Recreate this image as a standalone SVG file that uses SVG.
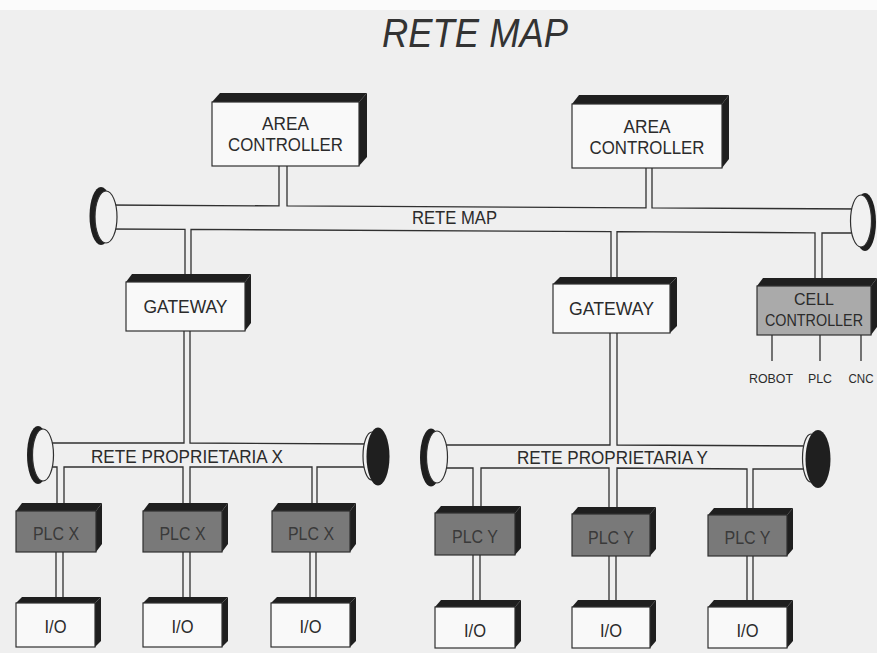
<svg xmlns="http://www.w3.org/2000/svg" width="877" height="653" viewBox="0 0 877 653">
<style>
  .ln{fill:none;stroke:#303030;stroke-width:1.3}
  .dk{fill:#1f1f1f}
  .fw{fill:#f9f9f9;stroke:#303030;stroke-width:1.2}
  .fd{fill:#797979;stroke:#303030;stroke-width:1.2}
  .fc{fill:#aaaaaa;stroke:#303030;stroke-width:1.2}
  .capl{fill:#f1f1f1;stroke:#303030;stroke-width:1.2}
  text{font-family:"Liberation Sans",Arial,Helvetica,sans-serif;fill:#2b2b2b;text-anchor:middle}
  .t17{font-size:18.5px}
  .tc{font-size:17px}
  .tp{font-size:19px;fill:#3a3a3a}
  .ts{font-size:13.5px}
</style>
<rect x="0" y="0" width="877" height="653" fill="#efefef"/>
<rect x="0" y="0" width="877" height="10" fill="#fbfbfb"/>
<text x="382" y="47" style="font-size:40px;font-style:italic;text-anchor:start;fill:#333" textLength="186" lengthAdjust="spacingAndGlyphs">RETE MAP</text>

<g id="connectors" class="ln">
  <path d="M106,205 L279,205.9 L279,166 M287,166 L287,205.9 L646,207.9 L646,168 M652,168 L652,207.9 L861,209"/>
  <path d="M106,229 L185,229.4 L185,282 M191,282 L191,229.4 L611,231.7 L611,284 M617,284 L617,231.7 L815,232.8 L815,286 M822,286 L822,232.8 L861,233"/>
  <path d="M184,331 L184,443 L43,443 M190,331 L190,443 L372,444"/>
  <path d="M43,467 L57,467 L57,511 M64,511 L64,467 L183,467 L183,511 M190,511 L190,467 L312,467 L312,511 M317,511 L317,467 L372,467"/>
  <path d="M56,552 V603 M63,552 V603 M183,552 V603 M190,552 V603 M310,552 V603 M316,552 V603"/>
  <path d="M610,333 L610,445 L437,445 M617,333 L617,445 L812,446"/>
  <path d="M437,468 L473,468 L473,513 M481,513 L481,468 L609,468 L609,514 M617,514 L617,468 L747,469 L747,515 M753,515 L753,469 L812,469"/>
  <path d="M473,555 V607 M480,555 V607 M609,556 V607 M616,556 V607 M747,556 V607 M753,556 V607"/>
  <path d="M772,335 V361 M820,335 V361 M861,335 V361"/>
</g>

<g id="bus-map">
  <ellipse class="dk" cx="101" cy="216" rx="11.5" ry="29"/>
  <ellipse class="capl" cx="106" cy="217" rx="11" ry="26"/>
  <ellipse class="dk" cx="865" cy="222" rx="11" ry="29"/>
  <ellipse class="capl" cx="861" cy="221" rx="10.5" ry="26"/>
  <text class="t17" x="454.5" y="224" textLength="85" lengthAdjust="spacingAndGlyphs">RETE MAP</text>
</g>
<g id="bus-x">
  <ellipse class="dk" cx="38" cy="455" rx="11" ry="29"/>
  <ellipse class="capl" cx="43" cy="455" rx="10.5" ry="26"/>
  <ellipse class="capl" cx="372" cy="456" rx="9" ry="24"/>
  <ellipse class="dk" cx="378" cy="456.5" rx="11.5" ry="29"/>
  <text class="t17" x="187" y="463" textLength="192" lengthAdjust="spacingAndGlyphs">RETE PROPRIETARIA X</text>
</g>
<g id="bus-y">
  <ellipse class="dk" cx="431" cy="457.5" rx="11" ry="29"/>
  <ellipse class="capl" cx="437" cy="457" rx="10.5" ry="26"/>
  <ellipse class="capl" cx="811" cy="458" rx="8.5" ry="24"/>
  <ellipse class="dk" cx="818" cy="459" rx="12.5" ry="29"/>
  <text class="t17" x="612.5" y="464" textLength="191" lengthAdjust="spacingAndGlyphs">RETE PROPRIETARIA Y</text>
</g>

<g id="area-controller-1">
  <polygon class="dk" points="212,102 220,93 367,93 359,102"/>
  <polygon class="dk" points="359,102 367,93 367,157 359,166"/>
  <rect class="fw" x="212" y="102" width="147" height="64"/>
  <text class="t17" x="285.5" y="130" textLength="47" lengthAdjust="spacingAndGlyphs">AREA</text>
  <text class="t17" x="285.5" y="151" textLength="115" lengthAdjust="spacingAndGlyphs">CONTROLLER</text>
</g>
<g id="area-controller-2">
  <polygon class="dk" points="572,104 579,95 729,95 722,104"/>
  <polygon class="dk" points="722,104 729,95 729,159 722,168"/>
  <rect class="fw" x="572" y="104" width="150" height="64"/>
  <text class="t17" x="647" y="133" textLength="47" lengthAdjust="spacingAndGlyphs">AREA</text>
  <text class="t17" x="647" y="154" textLength="115" lengthAdjust="spacingAndGlyphs">CONTROLLER</text>
</g>
<g id="gateway-1">
  <polygon class="dk" points="126,282 132,274 251,274 245,282"/>
  <polygon class="dk" points="245,282 251,274 251,323 245,331"/>
  <rect class="fw" x="126" y="282" width="119" height="49"/>
  <text class="t17" x="185.5" y="313" textLength="84" lengthAdjust="spacingAndGlyphs">GATEWAY</text>
</g>
<g id="gateway-2">
  <polygon class="dk" points="553,284 560,277 677,277 670,284"/>
  <polygon class="dk" points="670,284 677,277 677,326 670,333"/>
  <rect class="fw" x="553" y="284" width="117" height="49"/>
  <text class="t17" x="611.5" y="315" textLength="85" lengthAdjust="spacingAndGlyphs">GATEWAY</text>
</g>
<g id="cell-controller">
  <polygon class="dk" points="757,286 763,278 877,278 871,286"/>
  <polygon class="dk" points="871,286 877,278 877,327 871,335"/>
  <rect class="fc" x="757" y="286" width="114" height="49"/>
  <text class="tc" x="814" y="305" textLength="40" lengthAdjust="spacingAndGlyphs">CELL</text>
  <text class="tc" x="814" y="326" textLength="98" lengthAdjust="spacingAndGlyphs">CONTROLLER</text>
  <text class="ts" x="771" y="383" textLength="44" lengthAdjust="spacingAndGlyphs">ROBOT</text>
  <text class="ts" x="820" y="383" textLength="24" lengthAdjust="spacingAndGlyphs">PLC</text>
  <text class="ts" x="861" y="383" textLength="25" lengthAdjust="spacingAndGlyphs">CNC</text>
</g>

<g id="plc-x-1">
  <polygon class="dk" points="16,511 22,503 102,503 96,511"/>
  <polygon class="dk" points="96,511 102,503 102,544 96,552"/>
  <rect class="fd" x="16" y="511" width="80" height="41"/>
  <text class="tp" x="56" y="540" textLength="46" lengthAdjust="spacingAndGlyphs">PLC X</text>
</g>
<g id="plc-x-2">
  <polygon class="dk" points="143,511 149,503 228,503 222,511"/>
  <polygon class="dk" points="222,511 228,503 228,544 222,552"/>
  <rect class="fd" x="143" y="511" width="79" height="41"/>
  <text class="tp" x="182.5" y="540" textLength="46" lengthAdjust="spacingAndGlyphs">PLC X</text>
</g>
<g id="plc-x-3">
  <polygon class="dk" points="272,511 278,503 356,503 350,511"/>
  <polygon class="dk" points="350,511 356,503 356,544 350,552"/>
  <rect class="fd" x="272" y="511" width="78" height="41"/>
  <text class="tp" x="311" y="540" textLength="46" lengthAdjust="spacingAndGlyphs">PLC X</text>
</g>
<g id="io-x-1">
  <polygon class="dk" points="16,603 22,597 101,597 95,603"/>
  <polygon class="dk" points="95,603 101,597 101,641 95,647"/>
  <rect class="fw" x="16" y="603" width="79" height="44"/>
  <text class="t17" x="55.5" y="633" textLength="22" lengthAdjust="spacingAndGlyphs">I/O</text>
</g>
<g id="io-x-2">
  <polygon class="dk" points="143,603 149,597 228,597 222,603"/>
  <polygon class="dk" points="222,603 228,597 228,641 222,647"/>
  <rect class="fw" x="143" y="603" width="79" height="44"/>
  <text class="t17" x="182.5" y="633" textLength="22" lengthAdjust="spacingAndGlyphs">I/O</text>
</g>
<g id="io-x-3">
  <polygon class="dk" points="271,603 277,597 356,597 350,603"/>
  <polygon class="dk" points="350,603 356,597 356,641 350,647"/>
  <rect class="fw" x="271" y="603" width="79" height="44"/>
  <text class="t17" x="310.5" y="633" textLength="22" lengthAdjust="spacingAndGlyphs">I/O</text>
</g>

<g id="plc-y-1">
  <polygon class="dk" points="435,513 441,506 521,506 515,513"/>
  <polygon class="dk" points="515,513 521,506 521,548 515,555"/>
  <rect class="fd" x="435" y="513" width="80" height="42"/>
  <text class="tp" x="475" y="543" textLength="46" lengthAdjust="spacingAndGlyphs">PLC Y</text>
</g>
<g id="plc-y-2">
  <polygon class="dk" points="572,514 578,507 656,507 650,514"/>
  <polygon class="dk" points="650,514 656,507 656,549 650,556"/>
  <rect class="fd" x="572" y="514" width="78" height="42"/>
  <text class="tp" x="611" y="544" textLength="46" lengthAdjust="spacingAndGlyphs">PLC Y</text>
</g>
<g id="plc-y-3">
  <polygon class="dk" points="708,515 714,508 793,508 787,515"/>
  <polygon class="dk" points="787,515 793,508 793,549 787,556"/>
  <rect class="fd" x="708" y="515" width="79" height="41"/>
  <text class="tp" x="747.5" y="544" textLength="46" lengthAdjust="spacingAndGlyphs">PLC Y</text>
</g>
<g id="io-y-1">
  <polygon class="dk" points="435,607 441,600 521,600 515,607"/>
  <polygon class="dk" points="515,607 521,600 521,641 515,648"/>
  <rect class="fw" x="435" y="607" width="80" height="41"/>
  <text class="t17" x="475" y="637" textLength="22" lengthAdjust="spacingAndGlyphs">I/O</text>
</g>
<g id="io-y-2">
  <polygon class="dk" points="572,607 578,600 656,600 650,607"/>
  <polygon class="dk" points="650,607 656,600 656,641 650,648"/>
  <rect class="fw" x="572" y="607" width="78" height="41"/>
  <text class="t17" x="611" y="637" textLength="22" lengthAdjust="spacingAndGlyphs">I/O</text>
</g>
<g id="io-y-3">
  <polygon class="dk" points="708,607 714,600 793,600 787,607"/>
  <polygon class="dk" points="787,607 793,600 793,641 787,648"/>
  <rect class="fw" x="708" y="607" width="79" height="41"/>
  <text class="t17" x="747.5" y="637" textLength="22" lengthAdjust="spacingAndGlyphs">I/O</text>
</g>
</svg>
